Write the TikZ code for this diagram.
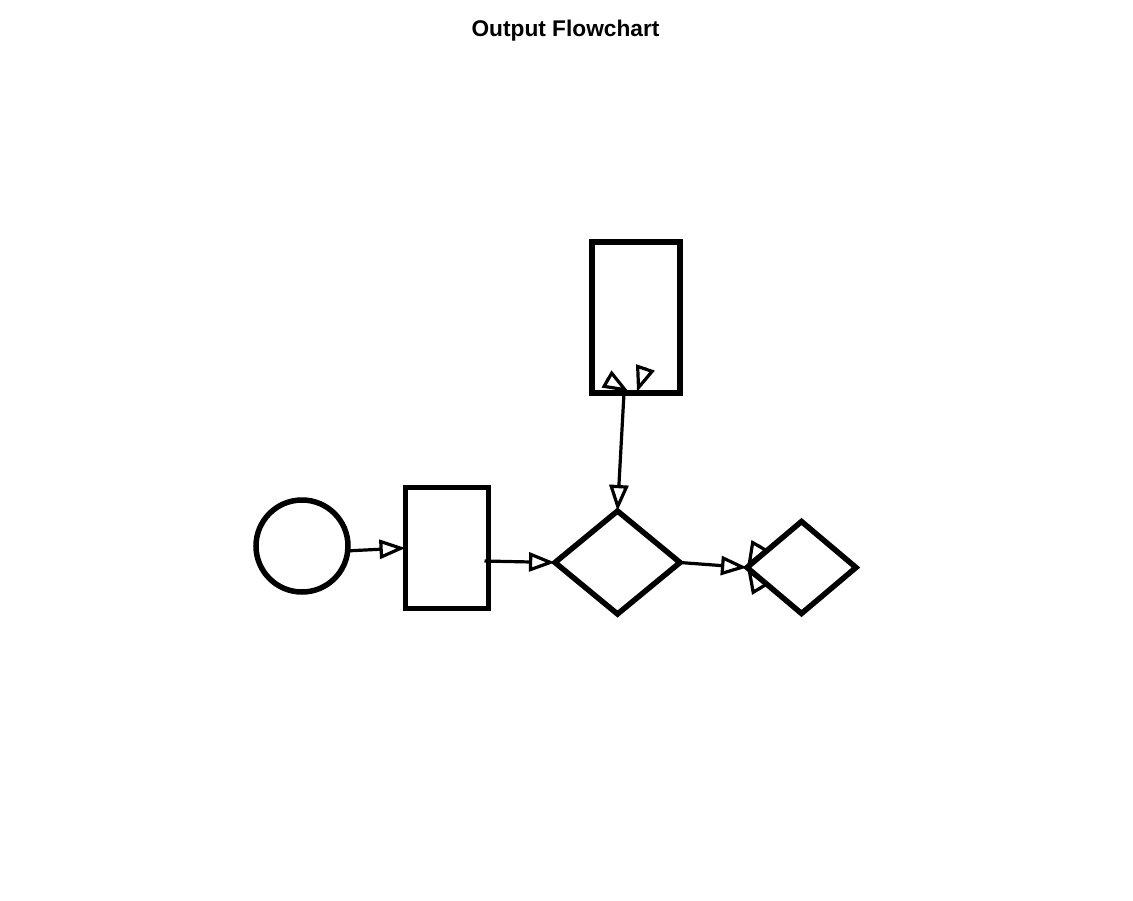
\documentclass[tikz,border=0pt]{standalone}
\usepackage{fontspec}
\setmainfont{Liberation Sans}
\usetikzlibrary{arrows.meta,shapes.geometric,calc}

\tikzset{
    shp/.style={draw, line width=5.5pt, inner sep=0pt, outer sep=0pt},
    link/.style={line width=3.2pt, -{Triangle[open, length=26pt, width=19pt]}},
}

\begin{document}
\begin{tikzpicture}[x=1pt, y=-1pt]
    \useasboundingbox (0,0) rectangle (1133,900);

    % Title at the top
    \node[font=\bfseries\fontsize{22.7}{25}\selectfont, anchor=base] (title) at (565.5,36) {Output Flowchart};

    % Shapes of the chart
    \node[shp, circle, minimum size=92pt] (start) at (302,546) {};
    \node[shp, rectangle, minimum width=83pt, minimum height=121pt] (proc) at (447,548) {};
    \node[shp, diamond, minimum width=125pt, minimum height=103pt] (check) at (617.5,562.5) {};
    \node[shp, diamond, minimum width=109pt, minimum height=92pt] (check2) at (801.5,567.5) {};
    \node[shp, rectangle, minimum width=88pt, minimum height=151pt] (out) at (636,317.5) {};

    % Connectors
    \draw[link] ($(start.east)+(-3,5)$) -- (proc.west);
    \draw[link] ($(proc.east)+(-4,13)$) -- (check.west);
    \draw[link] (check.east) -- (check2.west);
    \draw[link] ($(out.south)+(-12,0)$) -- (check.north);

    % Loose arrow heads
    \coordinate (tipA) at ($(out.south)+(-7,-1)$);
    \coordinate (tipB) at ($(out.south)+(1,-1)$);
    \draw[link] ($(tipA)!26pt!(610,381)$) -- (tipA);
    \draw[link] ($(tipB)!26pt!(644,371.5)$) -- (tipB);
    \draw[link] ($(check2.west)!26pt!(759.5,546)$) -- (check2.west);
    \draw[link] ($(check2.west)!26pt!(759.5,588)$) -- (check2.west);
\end{tikzpicture}
\end{document}
